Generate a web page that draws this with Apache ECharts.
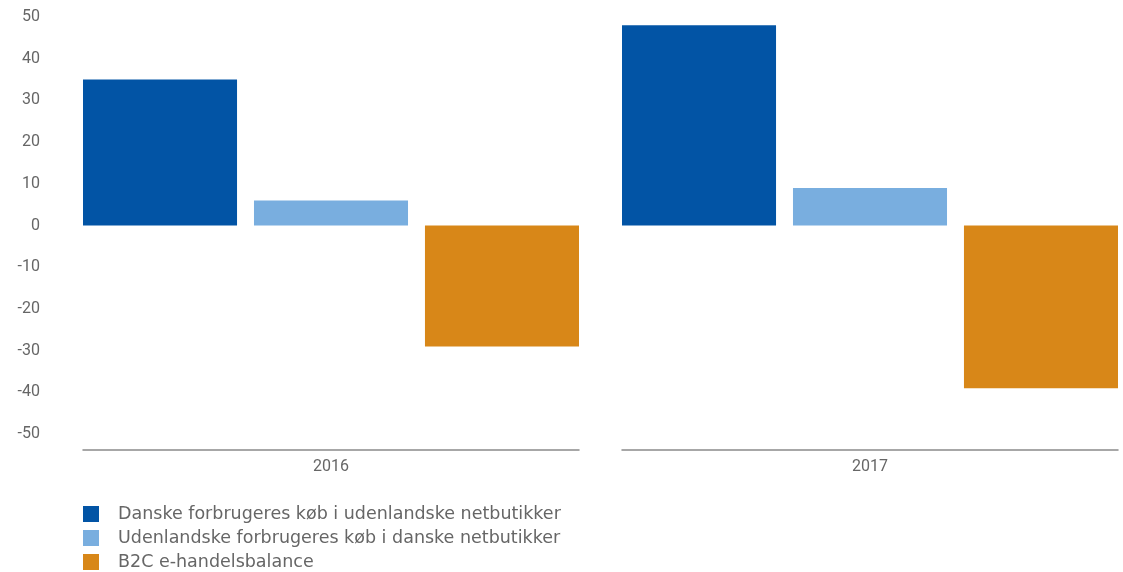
<!DOCTYPE html>
<html>
<head>
<meta charset="utf-8">
<script src="https://cdn.jsdelivr.net/npm/echarts@6/dist/echarts.min.js"></script>
<style>
  html, body { margin: 0; padding: 0; background: #fff; }
  #chart { width: 1123px; height: 572px; }
</style>
</head>
<body>
<div id="chart"></div>
<script>
const years = ['2016', '2017']
const seriesNames = [
  'Danske forbrugeres køb i udenlandske netbutikker',
  'Udenlandske forbrugeres køb i danske netbutikker',
  'B2C e-handelsbalance'
]
const danishBuying = [35, 48]
const foreignBuying = [6, 9]
const balance = [-29, -39]
const colors = ['#0254a5', '#79aedf', '#d88718']

const chart = echarts.init(document.getElementById('chart'))

// one grid per year so the bottom axis line breaks between the groups
const grids = [
  { left: 83, width: 496, top: 17, height: 417 },
  { left: 622, width: 496, top: 17, height: 417 }
]

const xAxes = years.map((y, i) => ({
  type: 'category',
  gridIndex: i,
  data: [y],
  offset: 16,
  axisLine: { onZero: false, lineStyle: { color: '#8a8a8a', width: 1.5 } },
  axisTick: { show: false },
  axisLabel: { color: '#666', fontSize: 16, fontFamily: 'Roboto', margin: 9 }
}))

const yAxes = years.map((y, i) => ({
  type: 'value',
  gridIndex: i,
  min: -50,
  max: 50,
  interval: 10,
  show: i === 0,
  axisLine: { show: false },
  axisTick: { show: false },
  splitLine: { show: false },
  axisLabel: { color: '#666', fontSize: 16, fontFamily: 'Roboto', margin: 43 }
}))

const values = [danishBuying, foreignBuying, balance]
const series = []
years.forEach((y, i) => {
  values.forEach((vals, k) => {
    series.push({
      name: seriesNames[k],
      type: 'bar',
      xAxisIndex: i,
      yAxisIndex: i,
      data: [vals[i]],
      barGap: '11%',
      barCategoryGap: '0%',
      itemStyle: { color: colors[k] },
      animation: false
    })
  })
})

chart.setOption({
  grid: grids,
  xAxis: xAxes,
  yAxis: yAxes,
  legend: {
    data: seriesNames,
    orient: 'vertical',
    left: 83,
    top: 505,
    height: 120,
    padding: 0,
    itemWidth: 16,
    itemHeight: 16,
    itemGap: 6,
    icon: 'rect',
    textStyle: { color: '#666', fontSize: 17.5, fontFamily: 'DejaVu Sans', padding: [0, 0, 0, 14] }
  },
  series: series
})
</script>
</body>
</html>
